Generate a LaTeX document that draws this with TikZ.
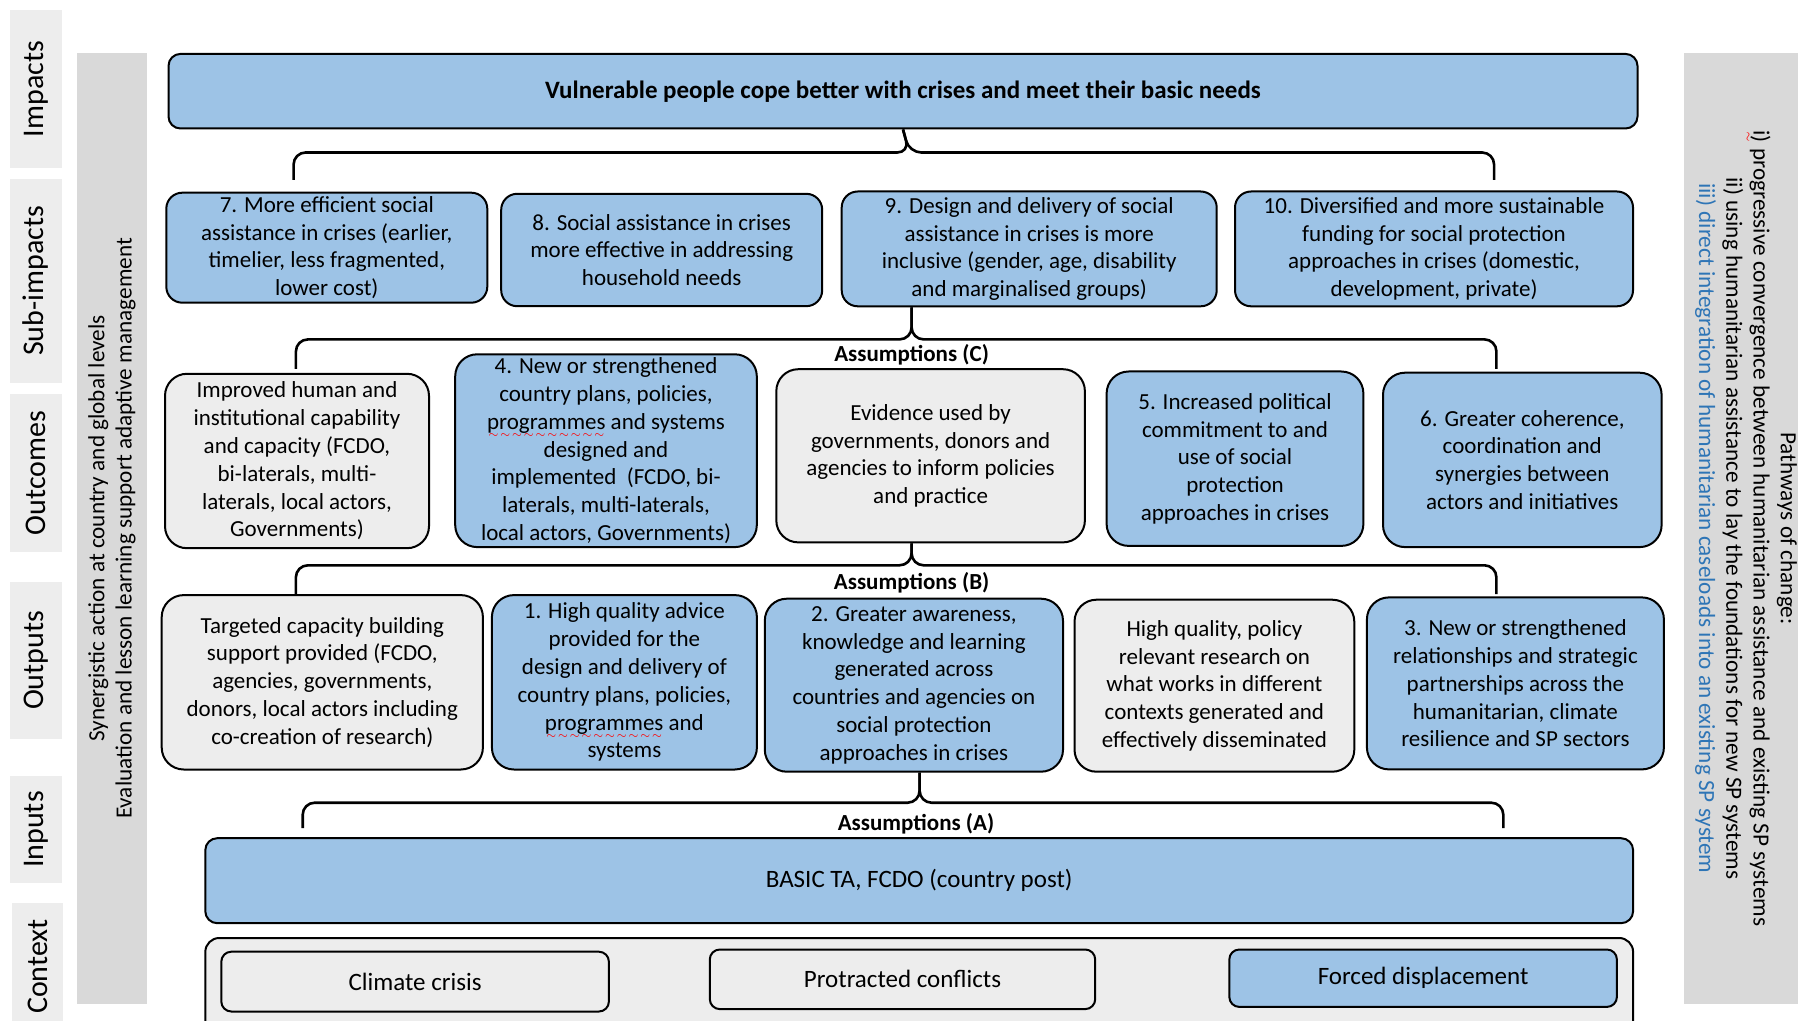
\documentclass[tikz,border=0pt]{standalone}
\usepackage{fontspec}
\setmainfont{Carlito}
\usepackage{tikz}
\usetikzlibrary{calc}
\definecolor{skyfill}{HTML}{9DC3E6}
\definecolor{palegray}{HTML}{EDEDED}
\definecolor{bandgray}{HTML}{D9D9D9}
\definecolor{pathblue}{HTML}{2E75B6}
\newcommand{\boxfont}{\fontsize{11.5}{13.9}\selectfont}
\newsavebox{\squigbox}
\newcommand{\squig}[1]{\sbox{\squigbox}{#1}\leavevmode\rlap{\textcolor{red}{\raisebox{-4pt}{\hbox to \wd\squigbox{\xleaders\hbox{\fontsize{5}{5}\selectfont$\sim$}\hfil}}}}\usebox{\squigbox}}

\begin{document}
\begin{tikzpicture}[x=0.5pt,y=-0.5pt,
  skybox/.style={draw=black,line width=1pt,fill=skyfill,rounded corners=8pt,align=center,font=\boxfont,inner sep=1pt},
  greybox/.style={skybox,fill=palegray},
  tag/.style={fill=palegray,rotate=90,inner sep=0pt,font=\fontsize{15}{18}\selectfont},
  band/.style={fill=bandgray,inner sep=0pt,align=center,font=\fontsize{11.6}{13.6}\selectfont},
  brace/.style={draw=black,line width=1.3pt,rounded corners=6pt},
  assume/.style={font=\bfseries\boxfont,inner sep=1pt}]
\useasboundingbox (0,0) rectangle (1798,1021);
\node (T1) at (36,89)[tag,minimum width=79pt,minimum height=26pt] {Impacts};
\node (T2) at (36,281)[tag,minimum width=102pt,minimum height=26pt] {Sub-impacts};
\node (T3) at (36,473)[tag,minimum width=79pt,minimum height=26pt] {Outcomes};
\node (T4) at (36,660.5)[tag,minimum width=78.5pt,minimum height=26pt] {Outputs};
\node (T5) at (36,829.5)[tag,minimum width=53.5pt,minimum height=26pt] {Inputs};
\node (T6) at (37.5,966.5)[tag,minimum width=63.5pt,minimum height=25.5pt] {Context};
\node (L1) at (112,528.5)[band,rotate=90,minimum width=475.5pt,minimum height=35pt] {Synergistic action at country and global levels\\Evaluation and lesson learning support adaptive management};
\node (R1) at (1746,528.5)[band,rotate=-90,minimum width=475.5pt,minimum height=62pt] {Pathways of change:\\\squig{i)} progressive convergence between humanitarian assistance and existing SP systems\\ii) using humanitarian assistance to lay the foundations for new SP systems\\\textcolor{pathblue}{iii) direct integration of humanitarian caseloads into an existing SP system}};
\node (H) at (903,91.2)[skybox,rounded corners=6pt,minimum width=734.5pt,minimum height=37.3pt,font=\bfseries\fontsize{12.5}{15}\selectfont] {Vulnerable people cope better with crises and meet their basic needs};
\node (S7) at (326.8,247.7)[skybox,minimum width=160.5pt,minimum height=55pt] {7. More efficient social\\assistance in crises (earlier,\\timelier, less fragmented,\\lower cost)};
\node (S8) at (661.7,250)[skybox,minimum width=160.5pt,minimum height=56.2pt] {8. Social assistance in crises\\more effective in addressing\\household needs};
\node (S9) at (1029.2,248.9)[skybox,minimum width=187.5pt,minimum height=57.4pt] {9. Design and delivery of social\\assistance in crises is more\\inclusive (gender, age, disability\\and marginalised groups)};
\node (S10) at (1434,248.9)[skybox,minimum width=199pt,minimum height=57.4pt] {10. Diversified and more sustainable\\funding for social protection\\approaches in crises (domestic,\\development, private)};
\node (O0) at (297,461)[greybox,rounded corners=11pt,minimum width=132pt,minimum height=87.2pt] {Improved human and\\institutional capability\\and capacity (FCDO,\\bi-laterals, multi-\\laterals, local actors,\\Governments)};
\node (O4) at (606,450.7)[skybox,rounded corners=11pt,minimum width=150.8pt,minimum height=96.4pt] {4. New or strengthened\\country plans, policies,\\\squig{programmes} and systems\\designed and\\implemented~ (FCDO, bi-\\laterals, multi-laterals,\\local actors, Governments)};
\node (OE) at (930.6,455.8)[greybox,rounded corners=11pt,minimum width=154.3pt,minimum height=86.6pt] {Evidence used by\\governments, donors and\\agencies to inform policies\\and practice};
\node (O5) at (1235,458.7)[skybox,rounded corners=11pt,minimum width=128.4pt,minimum height=87.2pt] {5. Increased political\\commitment to and\\use of social\\protection\\approaches in crises};
\node (O6) at (1522.3,459.9)[skybox,rounded corners=11pt,minimum width=139.3pt,minimum height=87.2pt] {6. Greater coherence,\\coordination and\\synergies between\\actors and initiatives};
\node (P0) at (322.3,682.3)[greybox,rounded corners=11pt,minimum width=160.6pt,minimum height=87.2pt] {Targeted capacity building\\support provided (FCDO,\\agencies, governments,\\donors, local actors including\\co-creation of research)};
\node (P1) at (624.4,682.3)[skybox,rounded corners=11pt,minimum width=132.5pt,minimum height=87.2pt] {1. High quality advice\\provided for the\\design and delivery of\\country plans, policies,\\\squig{programmes} and\\systems};
\node (P2) at (913.9,685.2)[skybox,rounded corners=11pt,minimum width=149.1pt,minimum height=86.5pt] {2. Greater awareness,\\knowledge and learning\\generated across\\countries and agencies on\\social protection\\approaches in crises};
\node (PR) at (1214.4,685.7)[greybox,rounded corners=11pt,minimum width=139.9pt,minimum height=86pt] {High quality, policy\\relevant research on\\what works in different\\contexts generated and\\effectively disseminated};
\node (P3) at (1515.4,683.4)[skybox,rounded corners=11pt,minimum width=148.5pt,minimum height=86pt] {3. New or strengthened\\relationships and strategic\\partnerships across the\\humanitarian, climate\\resilience and SP sectors};
\node (I) at (919.2,880.7)[skybox,rounded corners=6pt,minimum width=713.9pt,minimum height=42.5pt,font=\fontsize{12.5}{15}\selectfont] {BASIC TA, FCDO (country post)};
\node (C) at (919.2,990)[greybox,rounded corners=7pt,minimum width=713.9pt,minimum height=52pt] {};
\node (C1) at (415.1,981.6)[greybox,rounded corners=5pt,minimum width=193.8pt,minimum height=29.9pt,font=\fontsize{12.5}{15}\selectfont] {Climate crisis};
\node (C2) at (902.5,979.3)[greybox,rounded corners=5pt,minimum width=192.7pt,minimum height=29.8pt,font=\fontsize{12.5}{15}\selectfont] {Protracted conflicts};
\node (C3) at (1423.1,978.2)[skybox,rounded corners=5pt,minimum width=193.8pt,minimum height=28.7pt,font=\fontsize{12.5}{15}\selectfont] {Forced displacement};
\coordinate (B1l) at (293.6,180);
\coordinate (B1m) at (909.3,152.5);
\coordinate (B1r) at (1494.1,180);
\draw[brace] (B1l) |- (B1m) -- (H.south);
\draw[brace] (H.south) -- (B1m) -| (B1r);
\coordinate (B2l) at (295.9,369);
\coordinate (B2m) at (911.6,339.4);
\coordinate (B2r) at (1496.4,369);
\draw[brace] (B2l) |- (B2m) -- (B2m |- S9.south);
\draw[brace] (B2m |- S9.south) -- (B2m) -| (B2r);
\node (AC) at (911.6,354.5)[assume] {Assumptions (C)};
\coordinate (B3l) at (295.9,594);
\coordinate (B3m) at (911.6,565.3);
\coordinate (B3r) at (1496.4,594);
\draw[brace] (B3l) |- (B3m) -- (B3m |- OE.south);
\draw[brace] (B3m |- OE.south) -- (B3m) -| (B3r);
\node (AB) at (911.6,583)[assume] {Assumptions (B)};
\coordinate (B4l) at (302.7,828);
\coordinate (B4m) at (919.6,802.7);
\coordinate (B4r) at (1503.3,828);
\draw[brace] (B4l) |- (B4m) -- (B4m |- P2.south);
\draw[brace] (B4m |- P2.south) -- (B4m) -| (B4r);
\node (AA) at (916,823.5)[assume] {Assumptions (A)};
\end{tikzpicture}
\end{document}
